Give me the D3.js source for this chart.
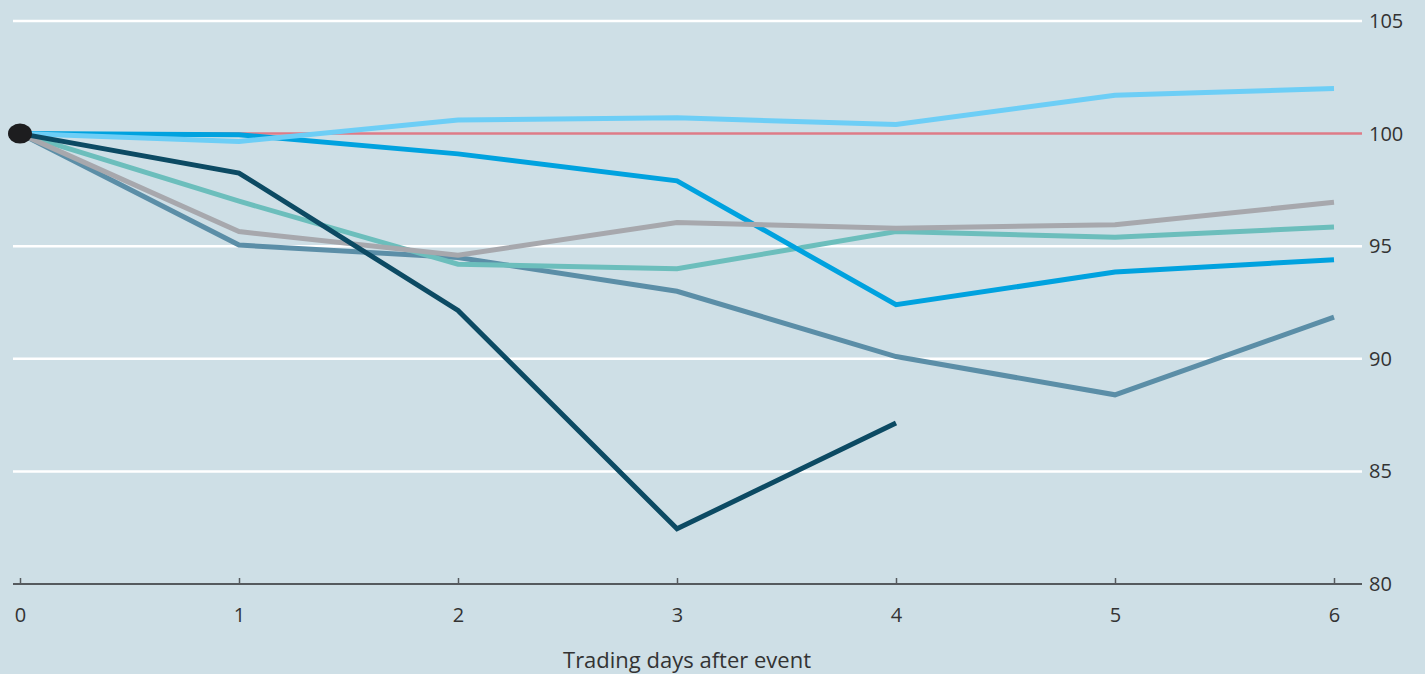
<!DOCTYPE html>
<html>
<head>
<meta charset="utf-8">
<script src="https://cdn.jsdelivr.net/npm/d3@7"></script>
<style>
  html, body { margin: 0; padding: 0; background: #cedfe6; }
  svg { display: block; }
  text { font-family: "Open Sans", "DejaVu Sans", sans-serif; fill: #333333; }
</style>
</head>
<body>
<svg id="chart" width="1425" height="674"></svg>
<script>
// Trading days after the event
const days = [0, 1, 2, 3, 4, 5, 6];
const yTicks = [80, 85, 90, 95, 100, 105];

// Index, day of event = 100
const seriesLightBlue = [100, 99.65, 100.6, 100.7, 100.4, 101.7, 102.0];
const seriesBlue      = [100, 99.95, 99.1, 97.9, 92.4, 93.85, 94.4];
const seriesGrey      = [100, 95.65, 94.6, 96.05, 95.8, 95.95, 96.95];
const seriesTeal      = [100, 97.0, 94.2, 94.0, 95.65, 95.4, 95.85];
const seriesSteel     = [100, 95.05, 94.5, 93.0, 90.1, 88.4, 91.85];
const seriesNavy      = [100, 98.25, 92.15, 82.45, 87.15];

const series = [
  { values: seriesSteel, color: "#5b8ea7" },
  { values: seriesTeal, color: "#6cbebc" },
  { values: seriesBlue, color: "#00a2df" },
  { values: seriesGrey, color: "#a7a8ad" },
  { values: seriesLightBlue, color: "#6dcef6" },
  { values: seriesNavy, color: "#0c4a63" }
];

const svg = d3.select("#chart");
const x = d3.scaleLinear().domain([0, 6]).range([20, 1334]);
const y = d3.scaleLinear().domain([80, 105]).range([584, 21]);
const gridLeft = 13, gridRight = 1362;

// Horizontal gridlines
svg.append("g")
  .selectAll("line")
  .data(yTicks.filter(d => d !== 80 && d !== 100))
  .join("line")
  .attr("x1", gridLeft).attr("x2", gridRight)
  .attr("y1", d => y(d)).attr("y2", d => y(d))
  .attr("stroke", "#ffffff").attr("stroke-width", 2.5);

// Right-hand value labels
svg.append("g")
  .selectAll("text")
  .data(yTicks)
  .join("text")
  .attr("x", 1369)
  .attr("y", d => y(d))
  .attr("dy", "0.35em")
  .attr("font-size", 20)
  .text(d => d);

// Baseline at 100
svg.append("line")
  .attr("x1", gridLeft).attr("x2", gridRight)
  .attr("y1", y(100)).attr("y2", y(100))
  .attr("stroke", "#de7b87").attr("stroke-width", 2.5);

// Bottom axis
const xAxis = d3.axisBottom(x)
  .tickValues(days)
  .tickFormat(d3.format("d"))
  .tickSize(-6)
  .tickPadding(24);
const axisG = svg.append("g")
  .attr("transform", `translate(0,${y(80)})`)
  .call(xAxis);
axisG.select(".domain").remove();
axisG.insert("line", ":first-child")
  .attr("x1", gridLeft).attr("x2", gridRight)
  .attr("stroke", "#555a5e").attr("stroke-width", 2);
axisG.selectAll(".tick line").attr("stroke", "#555a5e").attr("stroke-width", 1.5);
axisG.selectAll(".tick text")
  .attr("font-size", 20)
  .attr("font-family", "\"Open Sans\", \"DejaVu Sans\", sans-serif")
  .attr("fill", "#333333");

svg.append("text")
  .attr("x", x(3) + 10)
  .attr("y", 668)
  .attr("text-anchor", "middle")
  .attr("font-size", 22)
  .attr("fill", "#4a4a4a")
  .text("Trading days after event");

// Series lines
const line = d3.line()
  .x((d, i) => x(days[i]))
  .y(d => y(d));

svg.append("g")
  .selectAll("path")
  .data(series)
  .join("path")
  .attr("d", d => line(d.values))
  .attr("fill", "none")
  .attr("stroke", d => d.color)
  .attr("stroke-width", 5)
  .attr("stroke-linejoin", "miter");

// Starting point marker
svg.append("ellipse")
  .attr("cx", x(0))
  .attr("cy", y(100))
  .attr("rx", 12)
  .attr("ry", 10)
  .attr("fill", "#1d1d1f");
</script>
</body>
</html>
